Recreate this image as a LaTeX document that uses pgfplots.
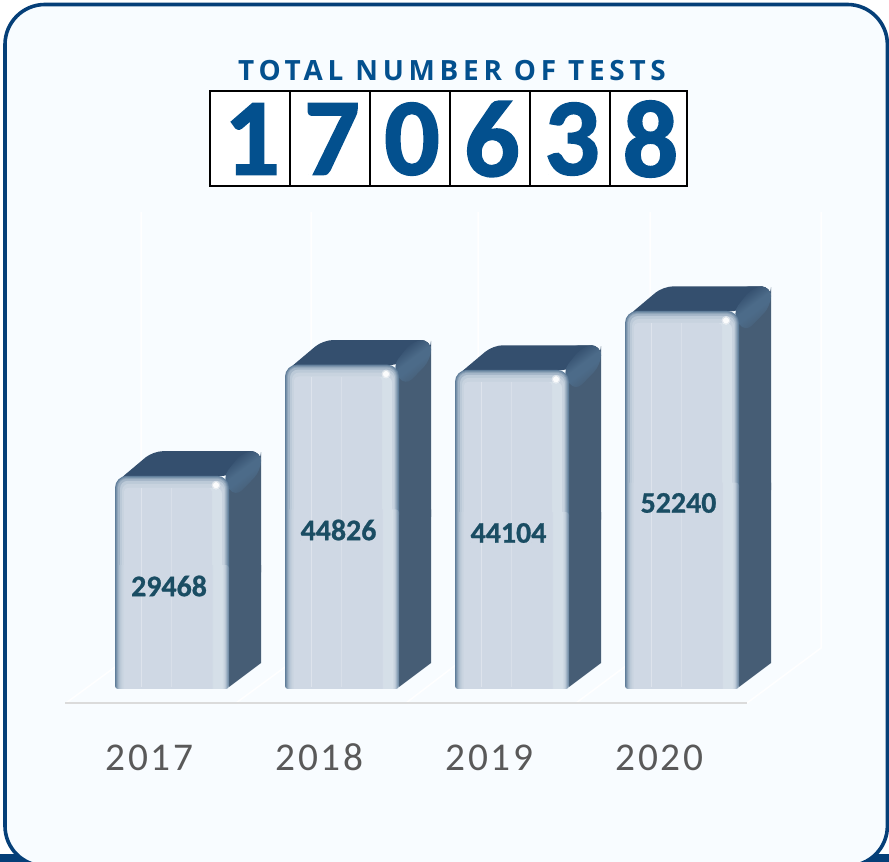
\documentclass[border=0pt]{standalone}
\usepackage{pgfplots}
\pgfplotsset{compat=1.18}
\usepackage{fontspec}
\setmainfont{Carlito}
\newfontfamily\titlefont[LetterSpace=17]{Open Sans}
\newfontfamily\tickfont[LetterSpace=7.5]{Carlito}
\newfontfamily\bigdigit[BoldFeatures={FakeBold=1.6}]{Carlito}
\newfontfamily\labelfont[BoldFeatures={FakeBold=0.8}]{Carlito}
\definecolor{frameblue}{HTML}{053F78}
\definecolor{panel}{HTML}{F8FCFF}
\definecolor{digitblue}{HTML}{03508E}
\definecolor{labelblue}{HTML}{1A4D63}
\definecolor{ticktext}{HTML}{595959}
\definecolor{base}{HTML}{CFD8E4}
\definecolor{hi}{HTML}{D5DFE8}
\definecolor{sideface}{HTML}{465D75}
\definecolor{topface}{HTML}{344F6E}
\definecolor{edgeA}{HTML}{5F7D9A}
\definecolor{edgeB}{HTML}{7690A9}
\definecolor{edgeM}{HTML}{8DA3B8}
\definecolor{edgeC}{HTML}{A3B5C7}
\definecolor{edgeD}{HTML}{BCCAD8}
\definecolor{edgeE}{HTML}{C8D3DF}
\definecolor{wedge}{HTML}{4C6B89}
\pgfdeclarehorizontalshading{barfront}{100bp}{
 color(0bp)=(edgeA); color(25bp)=(edgeA); color(25.44bp)=(edgeB); color(25.88bp)=(edgeM); color(26.3bp)=(edgeC);
 color(27.2bp)=(edgeD); color(28.07bp)=(edgeE); color(28.95bp)=(base); color(67.5bp)=(base); color(68bp)=(hi);
 color(71.9bp)=(hi); color(72.8bp)=(edgeE); color(73.25bp)=(edgeD); color(73.7bp)=(edgeC); color(74.1bp)=(edgeM);
 color(74.56bp)=(edgeB); color(75bp)=(edgeA); color(100bp)=(edgeA)}
\pgfdeclarehorizontalshading{wedgeface}{100bp}{
 color(0bp)=(topface); color(30bp)=(topface); color(46bp)=(wedge); color(54bp)=(wedge);
 color(72bp)=(sideface); color(100bp)=(sideface)}
% one inset layer of the bevelled front: #1 left, #2 value, #3 left inset, #4 right inset, #5 top inset (value units), #6 radius, #7 colour
\newcommand{\barlayer}[7]{%
 \edef\LL{\the\numexpr#1+#3\relax}%
 \edef\LR{\the\numexpr#1+114-#4\relax}%
 \edef\LT{\the\numexpr#2-#5\relax}%
 \edef\LM{\the\numexpr#2/2\relax}%
 \addplot[draw=none,fill=#7,rounded corners=#6bp] coordinates {(\LL,\LM)(\LL,\LT)(\LR,\LT)(\LR,\LM)} --cycle;
}
% one 3D bar: #1 left edge of the front face, #2 value
\newcommand{\threedbar}[2]{%
 \edef\R{\the\numexpr#1+114\relax}%
 \edef\BR{\the\numexpr#1+146\relax}%
 \edef\BL{\the\numexpr#1+38\relax}%
 \edef\TL{\the\numexpr#1+1\relax}%
 \edef\Back{\the\numexpr#2+3400\relax}%
 \edef\BackB{\the\numexpr#2+1900\relax}%
 \edef\SM{\the\numexpr#2/2\relax}%
 \edef\Low{\the\numexpr#2/2+2400\relax}%
 \edef\WA{\the\numexpr#1+107\relax}%
 \edef\WB{\the\numexpr#1+128\relax}%
 \edef\WC{\the\numexpr#1+120\relax}%
 \edef\TV{\the\numexpr#2-900\relax}%
 \edef\WVa{\the\numexpr#2-300\relax}%
 \edef\WV{\the\numexpr#2-3000\relax}%
 \edef\WD{\the\numexpr#2+700\relax}%
 \edef\Spot{\the\numexpr#2-1300\relax}%
 \edef\SX{\the\numexpr#1+101\relax}%
 \edef\GA{\the\numexpr#1+26\relax}%
 \edef\GB{\the\numexpr#1+56\relax}%
 \edef\GT{\the\numexpr#2-1660\relax}%
 \addplot[draw=none,fill=sideface,rounded corners=10bp] coordinates {(\R,\SM)(\BR,\SM)(\BR,\Back)(\R,\Back)} --cycle;
 \addplot[draw=none,fill=sideface] coordinates {(\R,276)(\BR,3593)(\BR,\Low)(\R,\Low)} --cycle;
 \addplot[draw=none,fill=topface,rounded corners=10bp] coordinates {(\TL,\TV)(\BL,\Back)(\BR,\Back)(\BR,\BackB)(\R,#2)} --cycle;
 \addplot[draw=none,shade,shading=wedgeface,shading angle=-53,rounded corners=10bp] coordinates {(\WA,\WVa)(\WB,\Back)(\BR,\Back)(\BR,\WD)(\WC,\WV)} --cycle;
 \barlayer{#1}{#2}{0}{0}{0}{12}{edgeA}%
 \barlayer{#1}{#2}{1}{1}{138}{11}{edgeB}%
 \barlayer{#1}{#2}{2}{2}{276}{10}{edgeM}%
 \barlayer{#1}{#2}{3}{3}{415}{9}{edgeC}%
 \barlayer{#1}{#2}{5}{4}{690}{8}{edgeD}%
 \barlayer{#1}{#2}{7}{5}{1105}{7}{edgeE}%
 \barlayer{#1}{#2}{9}{7}{1660}{6}{hi}%
 \barlayer{#1}{#2}{9}{17}{1660}{4}{base}%
 \addplot[draw=none,shade,shading=barfront,rounded corners=3bp] coordinates {(#1,0)(#1,\Low)(\R,\Low)(\R,0)} --cycle;
 \addplot[white,opacity=.3,line width=1bp] coordinates {(\GA,300)(\GA,\GT)};
 \addplot[white,opacity=.2,line width=1bp] coordinates {(\GB,300)(\GB,\GT)};
 \addplot[only marks,mark=*,mark size=4.2bp,white,opacity=.4,mark options={draw=none,fill=white}] coordinates {(\SX,\Spot)};
 \addplot[only marks,mark=*,mark size=2.8bp,white,opacity=.9,mark options={draw=none,fill=white}] coordinates {(\SX,\Spot)};
}
\begin{document}
\begin{tikzpicture}[x=1bp,y=1bp]
\path[use as bounding box] (0,0) rectangle (889,862);
\clip (0,0) rectangle (889,862);
\fill[white] (0,0) rectangle (889,862);
\fill[frameblue] (0,0) rectangle (889,8);
\draw[frameblue,line width=3.6bp,fill=panel,rounded corners=40bp] (5,857.5) rectangle (887.4,-4);
% counter
\foreach \a/\b/\d in {210/290/1,290/370/7,370/450/0,450/530/6,530/610/3,610/687/8}{
 \draw[black,line width=2.2bp,fill=white] (\a,676) rectangle (\b,771);
 \node[text=digitblue,font=\bigdigit\fontsize{110}{112}\selectfont\bfseries,inner sep=0pt,anchor=center] at ({(\a+\b)/2+2},723) {\d};
}
\node[text=digitblue,font=\titlefont\fontsize{28}{32}\selectfont\bfseries,inner sep=0pt,anchor=center] at (452,791) {TOTAL NUMBER OF TESTS};
\begin{axis}[
 at={(0,0)},anchor=south west,
 width=889bp,height=862bp,scale only axis,
 xmin=0,xmax=889,ymin=-23908.6,ymax=95219.8,
 axis line style={draw=none},
 major tick length=0pt,
 ytick=\empty,
 xtick={149.5,319.5,489.5,659.5},
 xticklabels={2017,2018,2019,2020},
 x tick label style={font=\tickfont\fontsize{39.5}{42}\selectfont,text=ticktext,anchor=center,text height=25bp,text depth=0pt,yshift=104bp},
 clip=false,
]
% faint back wall and floor
\addplot[white,line width=1.5bp] coordinates {(66,-1935)(141,5666)(141,65921)};
\addplot[white,line width=1.5bp] coordinates {(236,-1935)(311,5666)(311,65921)};
\addplot[white,line width=1.5bp] coordinates {(406,-1935)(478,5666)(478,65921)};
\addplot[white,line width=1.5bp] coordinates {(576,-1935)(650,5666)(650,65921)};
\addplot[white,line width=1.5bp] coordinates {(747,-1935)(821,5666)(821,65921)};
\addplot[color=black!14,line width=2bp] coordinates {(65,-1935)(747,-1935)};
\threedbar{115}{29468}
\threedbar{285}{44826}
\threedbar{455}{44104}
\threedbar{625}{52240}
\node[text=labelblue,font=\labelfont\fontsize{30}{32}\selectfont\bfseries,inner sep=0pt] at (axis cs:169,14235) {29468};
\node[text=labelblue,font=\labelfont\fontsize{30}{32}\selectfont\bfseries,inner sep=0pt] at (axis cs:338.5,21974) {44826};
\node[text=labelblue,font=\labelfont\fontsize{30}{32}\selectfont\bfseries,inner sep=0pt] at (axis cs:508.5,21559) {44104};
\node[text=labelblue,font=\labelfont\fontsize{30}{32}\selectfont\bfseries,inner sep=0pt] at (axis cs:678.5,25705) {52240};
\end{axis}
\end{tikzpicture}
\end{document}
